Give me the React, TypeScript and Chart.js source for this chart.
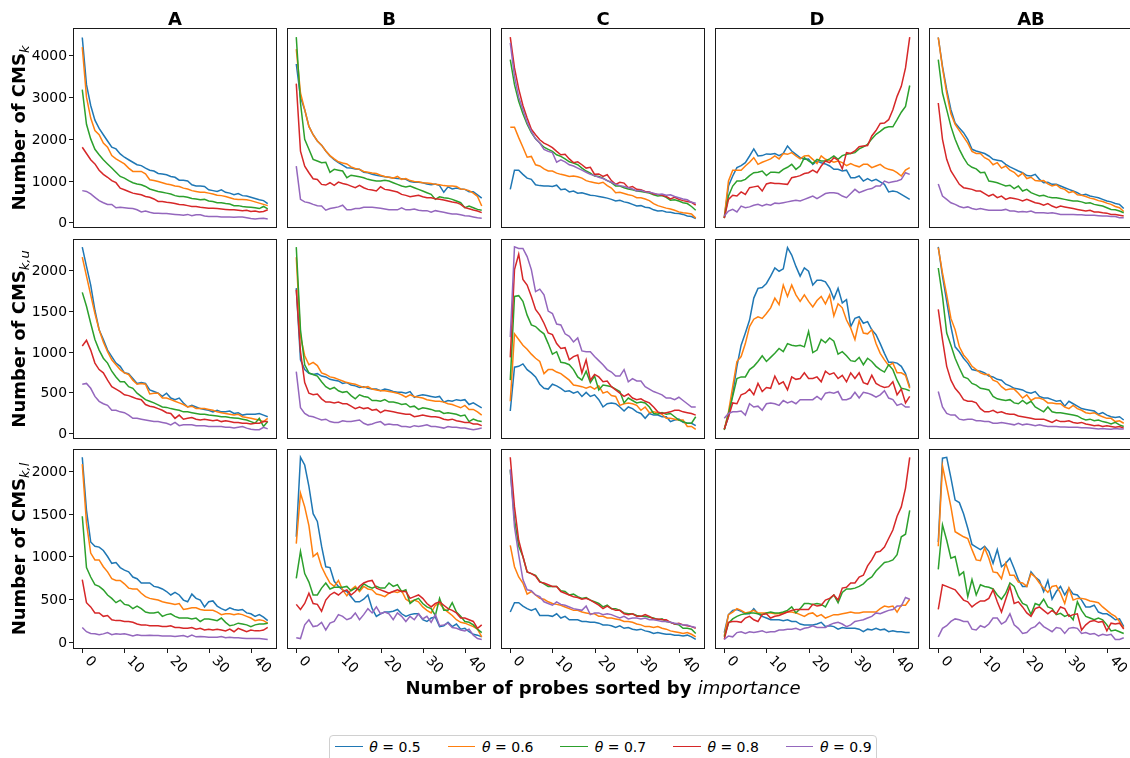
import React, { useEffect, useRef } from 'react';
import { Chart, registerables } from 'chart.js';

Chart.register(...registerables);

// ---------- categories / labels ----------
const COLUMNS = ['A', 'B', 'C', 'D', 'AB'];
const THETAS = ['0.5', '0.6', '0.7', '0.8', '0.9'];
const COLORS = ['#1f77b4', '#ff7f0e', '#2ca02c', '#d62728', '#9467bd'];
const ROW_SUBSCRIPTS = ['k', 'k,u', 'k,l'];
const X_TICKS = [0, 10, 20, 30, 40];
const Y_TICKS_ROW1 = [0, 1000, 2000, 3000, 4000];
const Y_TICKS_ROW2 = [0, 500, 1000, 1500, 2000];
const Y_TICKS_ROW3 = [0, 500, 1000, 1500, 2000];
const Y_LIMITS_ROW1 = [-136, 4658];
const Y_LIMITS_ROW2 = [-74, 2387];
const Y_LIMITS_ROW3 = [-82, 2257];
const X_LIMITS = [-2.2, 46.2];

// ---------- data: each panel holds 5 series (theta 0.5 .. 0.9), probes 0..44 ----------
// Row 1: Number of CMS_k
const A_k = [
  [4430, 3300, 2800, 2450, 2250, 2100, 1950, 1800, 1760, 1640, 1560, 1500, 1440, 1380, 1360, 1300, 1250, 1230, 1170, 1160, 1140, 1100, 1080, 1010, 1010, 990, 900, 870, 870, 860, 780, 760, 740, 780, 720, 700, 660, 690, 640, 630, 600, 570, 540, 520, 450],
  [4200, 3000, 2500, 2200, 2100, 1900, 1800, 1600, 1520, 1460, 1400, 1300, 1220, 1220, 1220, 1160, 1020, 1000, 980, 950, 920, 900, 870, 860, 820, 800, 760, 740, 720, 720, 700, 680, 650, 640, 620, 590, 560, 550, 550, 540, 520, 490, 460, 430, 400],
  [3180, 2350, 2000, 1750, 1620, 1500, 1400, 1300, 1200, 1100, 1060, 1000, 950, 920, 900, 860, 800, 770, 740, 720, 700, 680, 640, 620, 620, 600, 570, 560, 540, 550, 510, 500, 470, 470, 450, 440, 400, 400, 380, 370, 360, 350, 330, 380, 320],
  [1800, 1650, 1500, 1400, 1250, 1150, 1080, 1000, 950, 820, 780, 740, 700, 680, 660, 620, 600, 560, 500, 500, 480, 470, 450, 430, 420, 400, 380, 380, 360, 350, 340, 340, 330, 320, 310, 300, 300, 290, 280, 290, 260, 270, 250, 260, 300],
  [760, 740, 680, 600, 520, 470, 430, 430, 350, 360, 350, 340, 330, 300, 250, 270, 240, 220, 220, 210, 210, 200, 190, 180, 170, 190, 160, 180, 180, 150, 140, 140, 140, 130, 130, 130, 120, 130, 130, 110, 90, 80, 90, 100, 80],
];
const B_k = [
  [3795, 3000, 2700, 2300, 2100, 1950, 1850, 1710, 1590, 1500, 1430, 1370, 1310, 1300, 1280, 1270, 1200, 1190, 1150, 1130, 1110, 1090, 1080, 1060, 1050, 1045, 1030, 980, 960, 960, 950, 920, 900, 920, 880, 720, 850, 800, 820, 800, 790, 730, 730, 660, 580],
  [4150, 3100, 2700, 2300, 2100, 1950, 1850, 1710, 1600, 1520, 1450, 1420, 1400, 1330, 1290, 1270, 1220, 1200, 1180, 1170, 1130, 1100, 1080, 1060, 1100, 1030, 1050, 1000, 980, 970, 950, 940, 930, 910, 900, 880, 870, 870, 860, 800, 790, 760, 700, 620, 390],
  [4440, 2860, 1990, 1750, 1510, 1470, 1430, 1440, 1200, 1270, 1250, 1230, 1070, 1130, 1110, 1090, 1070, 1030, 1010, 990, 990, 1010, 990, 950, 910, 870, 850, 870, 830, 790, 750, 710, 670, 550, 610, 590, 580, 550, 510, 470, 350, 390, 350, 310, 290],
  [3325, 1707, 1348, 1188, 1045, 1029, 909, 893, 949, 886, 965, 933, 909, 869, 830, 886, 830, 790, 774, 750, 853, 790, 774, 750, 726, 670, 646, 614, 630, 646, 614, 590, 590, 566, 551, 535, 511, 487, 471, 431, 351, 327, 295, 272, 232],
  [1347, 550, 490, 470, 430, 400, 390, 290, 330, 350, 370, 410, 300, 300, 330, 330, 360, 360, 360, 350, 340, 320, 300, 300, 300, 350, 300, 300, 320, 290, 280, 280, 240, 280, 260, 240, 220, 200, 200, 180, 160, 150, 130, 110, 100],
];
const C_k = [
  [790, 1250, 1250, 1150, 1060, 1030, 900, 880, 870, 870, 860, 890, 780, 800, 730, 750, 700, 710, 680, 650, 640, 620, 600, 580, 550, 510, 530, 490, 470, 430, 390, 400, 360, 350, 300, 270, 280, 250, 240, 220, 210, 190, 150, 140, 90],
  [2280, 2280, 2030, 1800, 1560, 1580, 1380, 1350, 1280, 1230, 1230, 1180, 1150, 1130, 1100, 1110, 1090, 1060, 1000, 970, 950, 930, 960, 880, 820, 710, 720, 690, 660, 640, 590, 590, 560, 520, 450, 400, 370, 340, 320, 290, 250, 230, 220, 200, 100],
  [3900, 3300, 2900, 2600, 2350, 2150, 2000, 1900, 1800, 1750, 1700, 1620, 1580, 1520, 1450, 1420, 1380, 1300, 1230, 1180, 1110, 1100, 1060, 1000, 950, 870, 870, 830, 800, 780, 750, 740, 720, 700, 660, 630, 640, 600, 530, 540, 510, 470, 450, 380, 290],
  [4441, 3700, 3200, 2800, 2500, 2230, 2100, 1980, 1900, 1850, 1790, 1700, 1620, 1630, 1520, 1430, 1450, 1380, 1300, 1320, 1150, 1160, 1100, 1140, 1000, 910, 960, 940, 830, 860, 790, 780, 740, 730, 680, 670, 650, 620, 560, 600, 550, 520, 500, 480, 410],
  [4300, 3500, 3000, 2700, 2400, 2180, 2000, 1900, 1750, 1700, 1670, 1440, 1500, 1450, 1380, 1350, 1300, 1250, 1200, 1150, 1120, 1080, 1050, 1000, 960, 910, 880, 860, 830, 800, 750, 770, 730, 720, 700, 670, 680, 650, 660, 620, 590, 560, 540, 480, 455],
];
const D_k = [
  [110, 870, 1110, 1310, 1360, 1430, 1590, 1760, 1590, 1600, 1640, 1630, 1650, 1600, 1650, 1830, 1710, 1630, 1550, 1510, 1520, 1390, 1470, 1430, 1400, 1350, 1270, 1270, 1230, 1250, 1070, 1070, 1110, 990, 1050, 990, 1030, 970, 910, 730, 750, 730, 670, 610, 550],
  [112, 990, 1250, 1250, 1250, 1350, 1440, 1550, 1390, 1440, 1480, 1520, 1590, 1520, 1650, 1630, 1670, 1590, 1520, 1590, 1600, 1510, 1410, 1590, 1510, 1480, 1440, 1470, 1430, 1360, 1410, 1360, 1330, 1390, 1390, 1310, 1350, 1390, 1310, 1270, 1250, 1190, 1110, 1250, 1310],
  [100, 630, 870, 990, 990, 1030, 1120, 1190, 1200, 1230, 1120, 1200, 1200, 1190, 1270, 1320, 1390, 1270, 1350, 1550, 1470, 1410, 1510, 1470, 1470, 1520, 1590, 1510, 1600, 1630, 1650, 1670, 1760, 1810, 1870, 2000, 2110, 2180, 2260, 2290, 2290, 2460, 2640, 2780, 3280],
  [100, 550, 650, 630, 730, 670, 830, 850, 870, 750, 920, 950, 930, 930, 920, 910, 1070, 1090, 1120, 1170, 1190, 1250, 1190, 1350, 1470, 1430, 1550, 1490, 1280, 1670, 1650, 1710, 1810, 1830, 1840, 2070, 2200, 2370, 2380, 2460, 2700, 3020, 3260, 3700, 4440],
  [150, 270, 310, 250, 390, 350, 370, 410, 430, 390, 430, 410, 460, 450, 470, 490, 510, 530, 510, 550, 590, 630, 570, 630, 690, 710, 710, 690, 630, 590, 690, 790, 710, 750, 790, 810, 870, 870, 990, 950, 970, 990, 1030, 1190, 1150],
];
const AB_k = [
  [4430, 3740, 3180, 2700, 2380, 2260, 2150, 1990, 1750, 1710, 1680, 1650, 1590, 1510, 1490, 1470, 1390, 1330, 1280, 1230, 1190, 1120, 1110, 1150, 1030, 950, 960, 910, 910, 870, 830, 790, 750, 710, 650, 670, 630, 610, 590, 550, 510, 490, 450, 430, 330],
  [4430, 3700, 3100, 2600, 2350, 2200, 2050, 1900, 1700, 1650, 1650, 1550, 1500, 1380, 1430, 1300, 1350, 1250, 1200, 1100, 1180, 1050, 1080, 1000, 990, 1000, 920, 870, 900, 820, 790, 710, 740, 660, 650, 620, 580, 560, 520, 500, 460, 430, 380, 350, 260],
  [3900, 3100, 2700, 2300, 1990, 1750, 1550, 1390, 1320, 1280, 1190, 1200, 990, 970, 950, 910, 870, 890, 810, 870, 750, 790, 710, 670, 630, 650, 610, 590, 590, 570, 550, 530, 510, 510, 490, 460, 470, 430, 410, 390, 350, 310, 300, 270, 230],
  [2860, 1990, 1510, 1230, 1070, 910, 830, 810, 790, 750, 750, 690, 630, 670, 590, 630, 550, 590, 570, 550, 510, 550, 510, 470, 450, 410, 450, 390, 350, 390, 370, 350, 330, 310, 290, 270, 290, 250, 250, 230, 220, 190, 190, 170, 150],
  [920, 630, 550, 470, 430, 380, 350, 370, 330, 310, 330, 310, 290, 290, 290, 290, 310, 270, 270, 250, 260, 250, 270, 230, 230, 230, 220, 230, 210, 190, 190, 190, 190, 180, 180, 170, 170, 170, 160, 150, 150, 140, 140, 110, 110],
];

// Row 2: Number of CMS_{k,u}
const A_ku = [
  [2287, 2050, 1820, 1510, 1270, 1150, 1020, 940, 860, 820, 740, 730, 670, 610, 620, 610, 530, 510, 490, 450, 490, 430, 410, 430, 370, 320, 340, 320, 300, 290, 280, 260, 280, 260, 260, 270, 240, 250, 220, 230, 230, 230, 240, 220, 200],
  [2164, 1930, 1700, 1470, 1270, 1120, 1000, 900, 840, 780, 740, 720, 650, 600, 610, 600, 480, 490, 490, 430, 430, 410, 390, 370, 350, 320, 330, 300, 300, 300, 290, 280, 260, 250, 240, 230, 220, 230, 200, 190, 180, 170, 160, 140, 180],
  [1730, 1560, 1350, 1150, 1020, 920, 860, 760, 690, 630, 630, 570, 550, 490, 450, 410, 390, 370, 345, 320, 315, 300, 290, 280, 260, 260, 250, 240, 230, 230, 220, 215, 210, 200, 200, 190, 185, 180, 170, 160, 140, 120, 180, 80, 140],
  [1070, 1140, 1020, 860, 780, 740, 650, 570, 540, 510, 470, 460, 440, 420, 410, 350, 330, 320, 300, 280, 250, 240, 180, 220, 170, 180, 190, 170, 160, 170, 160, 150, 160, 140, 150, 140, 130, 130, 120, 120, 110, 120, 120, 140, 140],
  [600, 610, 550, 450, 390, 360, 340, 280, 280, 260, 250, 220, 180, 180, 170, 160, 150, 140, 140, 130, 120, 100, 130, 90, 100, 100, 100, 90, 90, 90, 80, 80, 80, 80, 70, 70, 60, 70, 80, 60, 45, 40, 40, 70, 50],
];
const B_ku = [
  [1782, 900, 780, 735, 720, 730, 700, 690, 660, 650, 640, 610, 620, 590, 580, 560, 570, 550, 540, 540, 520, 540, 530, 510, 500, 500, 490, 510, 440, 460, 470, 460, 450, 440, 450, 380, 400, 390, 410, 400, 410, 350, 370, 340, 310],
  [2164, 1190, 950, 840, 870, 830, 740, 720, 690, 680, 660, 640, 620, 610, 600, 580, 560, 570, 540, 530, 520, 520, 510, 500, 490, 470, 440, 470, 450, 440, 430, 410, 400, 390, 390, 380, 360, 350, 330, 310, 340, 290, 290, 260, 220],
  [2287, 1270, 840, 740, 720, 700, 630, 570, 540, 560, 520, 500, 510, 460, 420, 470, 450, 440, 400, 400, 390, 410, 380, 380, 370, 350, 360, 320, 330, 290, 310, 300, 290, 270, 270, 240, 250, 240, 230, 210, 220, 140, 170, 150, 140],
  [1762, 1000, 620, 490, 470, 480, 420, 380, 380, 370, 380, 360, 360, 330, 300, 320, 300, 310, 280, 290, 250, 280, 270, 260, 250, 240, 230, 230, 200, 210, 220, 210, 200, 200, 190, 170, 160, 170, 150, 140, 130, 130, 110, 110, 90],
  [756, 310, 240, 210, 200, 180, 160, 170, 140, 130, 130, 150, 140, 140, 150, 160, 120, 100, 110, 130, 140, 100, 110, 100, 100, 80, 80, 70, 90, 80, 90, 100, 80, 80, 70, 60, 80, 70, 70, 60, 60, 50, 40, 50, 60],
];
const C_ku = [
  [270, 810, 820, 850, 780, 740, 690, 600, 550, 540, 600, 580, 550, 510, 520, 490, 510, 450, 500, 450, 470, 410, 320, 360, 370, 360, 320, 270, 320, 300, 260, 240, 180, 240, 220, 220, 200, 200, 140, 160, 170, 130, 120, 120, 90],
  [390, 1220, 1150, 1080, 1030, 970, 920, 880, 730, 780, 780, 750, 730, 690, 650, 590, 580, 570, 550, 570, 540, 580, 490, 510, 460, 450, 340, 360, 370, 360, 340, 280, 320, 250, 260, 250, 230, 180, 180, 170, 160, 160, 80, 80, 45],
  [650, 1680, 1690, 1620, 1450, 1330, 1310, 1260, 1220, 1100, 970, 1000, 870, 860, 840, 780, 690, 650, 760, 620, 700, 530, 590, 580, 570, 540, 510, 370, 430, 400, 370, 380, 370, 320, 240, 230, 250, 230, 240, 200, 160, 140, 120, 120, 200],
  [930, 2010, 2200, 1890, 1820, 1680, 1520, 1450, 1350, 1230, 1210, 1100, 1040, 1050, 900, 940, 960, 740, 900, 650, 720, 690, 630, 640, 570, 530, 490, 450, 480, 430, 410, 420, 390, 370, 320, 260, 240, 250, 260, 280, 280, 260, 250, 240, 220],
  [1180, 2290, 2270, 2270, 2170, 2010, 1740, 1770, 1700, 1500, 1470, 1340, 1330, 1220, 1190, 1120, 1170, 1010, 1000, 1000, 940, 890, 840, 780, 750, 700, 700, 780, 630, 670, 640, 640, 570, 540, 510, 490, 470, 430, 430, 410, 440, 400, 360, 320, 320],
];
const D_ku = [
  [45, 200, 490, 820, 1080, 1230, 1390, 1660, 1780, 1790, 1840, 1930, 2030, 1990, 2020, 2280, 2190, 2050, 1930, 2030, 1990, 1820, 1880, 1880, 1860, 1780, 1650, 1780, 1600, 1640, 1310, 1410, 1430, 1350, 1370, 1270, 1210, 1100, 980, 870, 870, 860, 820, 730, 570],
  [45, 260, 570, 880, 940, 1100, 1310, 1400, 1430, 1410, 1470, 1540, 1660, 1580, 1820, 1680, 1820, 1700, 1620, 1700, 1620, 1550, 1630, 1680, 1590, 1700, 1440, 1590, 1540, 1390, 1290, 1150, 1380, 1230, 1220, 1270, 1100, 980, 900, 830, 860, 740, 740, 710, 550],
  [37, 240, 450, 670, 690, 690, 780, 820, 880, 950, 880, 930, 980, 1040, 1000, 1100, 1080, 1070, 1080, 1060, 1250, 990, 1020, 1150, 1110, 1170, 1130, 970, 1000, 950, 890, 880, 930, 840, 920, 880, 820, 780, 750, 840, 780, 650, 550, 540, 520],
  [45, 200, 370, 360, 470, 490, 540, 470, 610, 510, 560, 550, 700, 600, 630, 530, 690, 660, 670, 740, 670, 670, 690, 630, 760, 720, 740, 670, 710, 630, 740, 670, 740, 620, 600, 710, 610, 580, 560, 570, 630, 470, 540, 370, 450],
  [180, 240, 260, 260, 270, 220, 360, 320, 330, 280, 360, 370, 360, 340, 400, 370, 390, 360, 410, 410, 410, 410, 450, 410, 490, 500, 490, 510, 410, 410, 430, 500, 430, 500, 490, 470, 440, 470, 520, 430, 410, 340, 360, 320, 320],
];
const AB_ku = [
  [2290, 1930, 1620, 1310, 1060, 1000, 920, 860, 780, 770, 760, 740, 700, 690, 660, 650, 600, 580, 550, 540, 530, 500, 490, 510, 450, 430, 430, 410, 390, 400, 330, 390, 360, 330, 300, 290, 280, 270, 230, 250, 220, 200, 190, 200, 160],
  [2280, 1970, 1700, 1410, 1270, 1060, 960, 900, 820, 780, 740, 720, 720, 650, 630, 570, 530, 540, 540, 490, 430, 470, 400, 430, 430, 410, 370, 370, 360, 360, 320, 300, 340, 300, 280, 250, 240, 250, 220, 200, 180, 180, 140, 150, 120],
  [2030, 1680, 1230, 1080, 920, 800, 690, 670, 610, 590, 550, 540, 530, 450, 420, 410, 400, 410, 370, 360, 400, 360, 390, 320, 290, 260, 320, 260, 250, 250, 240, 230, 220, 210, 180, 160, 170, 150, 160, 140, 130, 110, 130, 100, 80],
  [1520, 1150, 820, 650, 550, 490, 410, 390, 390, 370, 300, 260, 260, 280, 250, 260, 240, 230, 230, 210, 200, 190, 180, 170, 170, 170, 150, 130, 160, 140, 140, 150, 130, 120, 130, 110, 100, 90, 95, 80, 90, 80, 70, 80, 60],
  [510, 320, 240, 220, 220, 170, 160, 170, 170, 150, 150, 140, 140, 120, 120, 130, 120, 110, 100, 120, 100, 110, 100, 90, 100, 90, 80, 80, 80, 75, 75, 70, 70, 70, 65, 65, 60, 55, 50, 55, 50, 45, 55, 50, 50],
];

// Row 3: Number of CMS_{k,l}
const A_kl = [
  [2160, 1540, 1170, 1120, 1110, 1070, 1000, 920, 930, 870, 840, 820, 760, 740, 690, 690, 690, 650, 640, 620, 590, 550, 580, 550, 490, 470, 560, 510, 490, 410, 470, 480, 420, 390, 370, 400, 380, 370, 380, 340, 330, 300, 320, 290, 250],
  [2080, 1390, 1040, 960, 960, 880, 820, 740, 720, 720, 680, 630, 620, 620, 570, 530, 510, 500, 490, 470, 460, 450, 440, 450, 380, 390, 400, 400, 380, 370, 370, 370, 350, 320, 330, 330, 320, 330, 320, 300, 280, 250, 260, 250, 220],
  [1470, 870, 760, 670, 650, 610, 550, 510, 460, 490, 440, 430, 390, 420, 390, 350, 340, 340, 350, 300, 320, 330, 300, 280, 280, 280, 270, 280, 240, 270, 270, 260, 250, 280, 230, 190, 200, 220, 210, 200, 180, 200, 210, 210, 220],
  [730, 460, 410, 340, 340, 300, 310, 260, 250, 250, 240, 240, 230, 210, 200, 200, 190, 190, 190, 180, 180, 190, 170, 170, 160, 160, 170, 150, 160, 140, 150, 140, 150, 140, 130, 150, 120, 160, 140, 120, 140, 130, 130, 140, 170],
  [170, 120, 100, 95, 85, 95, 110, 85, 95, 90, 95, 85, 70, 85, 75, 75, 80, 75, 75, 70, 70, 70, 65, 70, 75, 60, 80, 60, 65, 60, 55, 55, 55, 65, 50, 55, 50, 50, 45, 40, 40, 40, 40, 35, 30],
];
const B_kl = [
  [1230, 2160, 2070, 1820, 1500, 1410, 1120, 880, 870, 710, 650, 610, 590, 530, 470, 470, 500, 550, 390, 300, 330, 350, 350, 360, 380, 330, 300, 320, 330, 330, 260, 240, 280, 290, 180, 190, 230, 180, 210, 150, 160, 120, 90, 80, 60],
  [1150, 1740, 1580, 1360, 1000, 1040, 880, 780, 690, 650, 720, 610, 540, 610, 650, 590, 650, 620, 610, 560, 550, 530, 570, 590, 580, 600, 500, 470, 490, 470, 410, 370, 340, 430, 450, 390, 350, 310, 260, 230, 220, 200, 180, 150, 60],
  [745, 1060, 800, 700, 550, 550, 630, 690, 620, 640, 640, 640, 650, 600, 630, 610, 680, 650, 630, 650, 630, 630, 690, 650, 670, 590, 610, 450, 490, 510, 450, 410, 390, 310, 510, 370, 370, 460, 350, 300, 240, 230, 200, 150, 110],
  [440, 380, 450, 570, 450, 440, 360, 490, 550, 580, 550, 590, 610, 550, 590, 650, 690, 710, 720, 630, 610, 590, 570, 590, 610, 590, 590, 510, 530, 550, 510, 450, 410, 450, 470, 430, 390, 370, 340, 280, 280, 260, 240, 160, 200],
  [50, 40, 200, 260, 180, 190, 230, 140, 220, 240, 320, 300, 260, 280, 340, 260, 320, 390, 340, 410, 330, 350, 330, 260, 340, 300, 240, 300, 260, 330, 270, 300, 230, 320, 190, 200, 220, 170, 160, 140, 130, 150, 80, 40, 30],
];
const C_kl = [
  [350, 460, 460, 420, 390, 370, 390, 310, 310, 310, 300, 330, 280, 300, 260, 260, 260, 240, 240, 230, 230, 220, 200, 200, 190, 170, 190, 160, 170, 150, 140, 150, 130, 120, 100, 110, 100, 90, 90, 80, 80, 70, 80, 60, 30],
  [1130, 880, 760, 690, 560, 590, 550, 510, 500, 470, 450, 440, 430, 410, 390, 370, 370, 350, 340, 330, 330, 300, 300, 280, 280, 270, 260, 240, 240, 230, 210, 200, 180, 180, 170, 180, 160, 150, 130, 120, 110, 100, 110, 90, 60],
  [2010, 1430, 1120, 1000, 820, 800, 780, 710, 680, 650, 650, 650, 600, 590, 550, 560, 530, 510, 520, 490, 470, 450, 410, 430, 390, 390, 370, 340, 330, 330, 310, 300, 300, 290, 280, 260, 270, 240, 230, 210, 200, 160, 160, 150, 100],
  [2160, 1580, 1190, 1000, 820, 800, 770, 700, 690, 670, 650, 650, 590, 570, 550, 530, 520, 500, 510, 490, 460, 430, 390, 420, 390, 370, 370, 330, 320, 330, 300, 300, 320, 300, 270, 270, 260, 260, 230, 210, 220, 200, 190, 180, 160],
  [2020, 1350, 1020, 730, 610, 600, 550, 530, 470, 450, 430, 470, 440, 430, 410, 390, 380, 370, 420, 320, 340, 340, 320, 330, 320, 300, 280, 300, 270, 280, 280, 270, 280, 260, 260, 250, 240, 240, 230, 220, 210, 200, 200, 180, 170],
];
const D_kl = [
  [110, 320, 370, 380, 360, 330, 330, 390, 330, 300, 280, 260, 260, 260, 250, 260, 240, 240, 210, 200, 200, 200, 210, 230, 180, 190, 180, 150, 170, 160, 160, 160, 150, 120, 150, 140, 160, 140, 150, 120, 130, 120, 120, 110, 110],
  [70, 320, 350, 390, 370, 340, 350, 370, 340, 340, 340, 340, 330, 330, 340, 350, 350, 340, 320, 300, 330, 340, 300, 320, 280, 300, 320, 320, 330, 340, 350, 340, 340, 350, 350, 350, 350, 390, 420, 410, 420, 350, 430, 430, 500],
  [60, 220, 270, 300, 320, 330, 340, 340, 330, 320, 340, 350, 340, 340, 350, 370, 410, 340, 390, 450, 450, 440, 450, 440, 410, 500, 550, 460, 580, 620, 620, 630, 650, 680, 730, 760, 830, 880, 930, 940, 960, 1020, 1230, 1260, 1540],
  [30, 230, 240, 240, 230, 280, 300, 260, 240, 320, 330, 280, 300, 310, 330, 350, 370, 380, 380, 380, 380, 440, 420, 430, 490, 510, 550, 490, 630, 640, 690, 690, 760, 780, 890, 960, 1050, 1060, 1110, 1210, 1310, 1470, 1580, 1800, 2160],
  [30, 70, 60, 110, 120, 100, 120, 110, 120, 130, 110, 120, 120, 140, 140, 150, 150, 160, 140, 160, 170, 190, 170, 170, 170, 200, 220, 230, 210, 180, 200, 240, 250, 260, 280, 300, 340, 330, 350, 370, 380, 420, 420, 520, 500],
];
const AB_kl = [
  [1170, 2150, 2160, 1920, 1660, 1630, 1500, 1330, 1140, 1110, 1080, 1120, 1060, 920, 1080, 880, 920, 980, 860, 730, 650, 650, 820, 760, 720, 590, 720, 500, 590, 650, 550, 630, 560, 550, 490, 410, 410, 430, 350, 330, 330, 300, 260, 270, 180],
  [1120, 2060, 1820, 1580, 1290, 1260, 1230, 1210, 1080, 960, 950, 1100, 980, 820, 810, 740, 920, 780, 780, 700, 690, 650, 800, 760, 690, 630, 580, 650, 660, 570, 450, 630, 490, 510, 510, 500, 480, 470, 460, 410, 370, 330, 300, 240, 160],
  [850, 1370, 1190, 980, 1000, 780, 820, 530, 730, 550, 670, 650, 640, 620, 550, 500, 570, 690, 650, 530, 450, 430, 320, 450, 430, 500, 410, 390, 320, 335, 300, 320, 260, 470, 370, 300, 280, 260, 280, 260, 200, 130, 140, 120, 100],
  [380, 670, 650, 630, 610, 550, 490, 470, 410, 450, 480, 480, 510, 610, 470, 350, 500, 650, 450, 470, 410, 340, 300, 390, 410, 370, 330, 370, 330, 410, 390, 300, 320, 330, 140, 200, 240, 250, 230, 240, 130, 220, 210, 220, 150],
  [60, 160, 190, 240, 270, 260, 240, 240, 150, 140, 190, 170, 210, 280, 280, 210, 240, 330, 200, 160, 100, 110, 160, 180, 230, 180, 150, 120, 170, 160, 100, 160, 170, 160, 100, 110, 90, 100, 70, 90, 80, 90, 30, 30, 50],
];

const PANELS = [
  [A_k, B_k, C_k, D_k, AB_k],
  [A_ku, B_ku, C_ku, D_ku, AB_ku],
  [A_kl, B_kl, C_kl, D_kl, AB_kl],
];
const ROW_Y_TICKS = [Y_TICKS_ROW1, Y_TICKS_ROW2, Y_TICKS_ROW3];
const ROW_Y_LIMITS = [Y_LIMITS_ROW1, Y_LIMITS_ROW2, Y_LIMITS_ROW3];

// ---------- layout ----------
const FRAME_W = 204;
const FRAME_H = 200;
const frameLeft = (c: number) => Math.round(73 + 214.1 * c);
const frameTop = (r: number) => Math.round(28.3 + 210.3 * r);
const FONT = '"DejaVu Sans", "Liberation Sans", sans-serif';
const TICK_FONT_PX = 13.9;

function axesPlugin(r: number, c: number) {
  return {
    id: 'mplAxes',
    afterDatasetsDraw(chart: any) {
      const { ctx, chartArea: a, scales } = chart;
      ctx.save();
      ctx.strokeStyle = '#1a1a1a';
      ctx.lineWidth = 1;
      ctx.strokeRect(Math.round(a.left) + 0.5, Math.round(a.top) + 0.5, Math.round(a.right - a.left) - 1, Math.round(a.bottom - a.top) - 1);
      ctx.fillStyle = '#000';
      ctx.font = `${TICK_FONT_PX}px ${FONT}`;
      if (c === 0) {
        ctx.textAlign = 'right';
        ctx.textBaseline = 'middle';
        for (const v of ROW_Y_TICKS[r]) {
          const y = Math.round(scales.y.getPixelForValue(v)) + 0.5;
          ctx.beginPath();
          ctx.moveTo(a.left - 4, y);
          ctx.lineTo(a.left, y);
          ctx.stroke();
          ctx.fillText(String(v), a.left - 6, y + 0.5);
        }
      }
      if (r === 2) {
        for (const v of X_TICKS) {
          const x = Math.round(scales.x.getPixelForValue(v)) + 0.5;
          ctx.beginPath();
          ctx.moveTo(x, a.bottom);
          ctx.lineTo(x, a.bottom + 4);
          ctx.stroke();
          const label = String(v);
          const w = ctx.measureText(label).width;
          const h = TICK_FONT_PX * 0.95;
          const s = (w + h) / Math.SQRT2;
          ctx.save();
          ctx.translate(x + s / 2, a.bottom + 5 + s / 2);
          ctx.rotate(Math.PI / 4);
          ctx.textAlign = 'center';
          ctx.textBaseline = 'middle';
          ctx.fillText(label, 0, 0);
          ctx.restore();
        }
      }
      ctx.restore();
    },
  };
}

function Panel({ r, c }: { r: number; c: number }) {
  const ref = useRef<HTMLCanvasElement | null>(null);
  const padL = c === 0 ? 50 : 3;
  const padR = 3;
  const padT = 3;
  const padB = r === 2 ? 42 : 3;
  const W = FRAME_W + padL + padR;
  const H = FRAME_H + padT + padB;

  useEffect(() => {
    const series = PANELS[r][c];
    const yl = ROW_Y_LIMITS[r];
    const chart = new Chart(ref.current as HTMLCanvasElement, {
      type: 'line',
      data: {
        datasets: series.map((arr, k) => ({
          label: `θ = ${THETAS[k]}`,
          data: arr.map((v, i) => ({ x: i, y: v })),
          borderColor: COLORS[k],
          backgroundColor: COLORS[k],
          borderWidth: 1.5,
          pointRadius: 0,
          tension: 0,
          fill: false,
          order: COLORS.length - k,
        })),
      },
      options: {
        animation: false,
        responsive: false,
        maintainAspectRatio: false,
        events: [],
        layout: { padding: { left: padL, right: padR, top: padT, bottom: padB } },
        scales: {
          x: { type: 'linear', display: false, min: X_LIMITS[0], max: X_LIMITS[1] },
          y: { type: 'linear', display: false, min: yl[0], max: yl[1] },
        },
        plugins: { legend: { display: false }, tooltip: { enabled: false } },
      } as any,
      plugins: [axesPlugin(r, c)],
    } as any);
    return () => chart.destroy();
  }, [r, c]);

  return (
    <canvas
      ref={ref}
      width={W}
      height={H}
      style={{ position: 'absolute', left: frameLeft(c) - padL, top: frameTop(r) - padT, width: W, height: H }}
    />
  );
}

export default function App() {
  const rows = [0, 1, 2];
  const cols = [0, 1, 2, 3, 4];
  return (
    <div
      style={{
        position: 'absolute',
        left: 0,
        top: 0,
        width: 1130,
        height: 758,
        overflow: 'hidden',
        background: '#fff',
        fontFamily: FONT,
        color: '#000',
      }}
    >
      {rows.map((r) => cols.map((c) => <Panel key={`${r}-${c}`} r={r} c={c} />))}

      {COLUMNS.map((name, c) => (
        <div
          key={name}
          style={{
            position: 'absolute',
            left: frameLeft(c) + FRAME_W / 2,
            top: 9,
            transform: 'translateX(-50%)',
            font: `bold 18px ${FONT}`,
            lineHeight: '20px',
            whiteSpace: 'nowrap',
          }}
        >
          {name}
        </div>
      ))}

      {ROW_SUBSCRIPTS.map((sub, r) => (
        <div
          key={sub}
          style={{
            position: 'absolute',
            left: 20,
            top: frameTop(r) + FRAME_H / 2,
            transform: 'translate(-50%, -50%) rotate(-90deg)',
            font: `bold 18px ${FONT}`,
            lineHeight: '20px',
            whiteSpace: 'nowrap',
          }}
        >
          Number of CMS
          <span style={{ fontSize: 13, fontWeight: 'normal', fontStyle: 'italic', position: 'relative', top: 4 }}>{sub}</span>
        </div>
      ))}

      <div
        style={{
          position: 'absolute',
          left: 603,
          top: 678,
          transform: 'translateX(-50%)',
          font: `bold 18px ${FONT}`,
          lineHeight: '20px',
          whiteSpace: 'nowrap',
        }}
      >
        Number of probes sorted by <span style={{ fontStyle: 'italic', fontWeight: 'normal' }}>importance</span>
      </div>

      <div
        style={{
          position: 'absolute',
          left: 329,
          top: 735,
          width: 548,
          height: 36,
          border: '1px solid #d0d0d0',
          borderRadius: 4,
          background: '#fff',
          boxSizing: 'border-box',
        }}
      />
      {THETAS.map((t, k) => (
        <React.Fragment key={t}>
          <div
            style={{
              position: 'absolute',
              left: 335 + 112.7 * k,
              top: 745.5,
              width: 27.5,
              height: 1.5,
              background: COLORS[k],
            }}
          />
          <div
            style={{
              position: 'absolute',
              left: 369.3 + 112.7 * k,
              top: 737.5,
              font: `14px ${FONT}`,
              lineHeight: '18px',
              whiteSpace: 'nowrap',
            }}
          >
            <span style={{ fontStyle: 'italic' }}>θ</span> = {t}
          </div>
        </React.Fragment>
      ))}
    </div>
  );
}
